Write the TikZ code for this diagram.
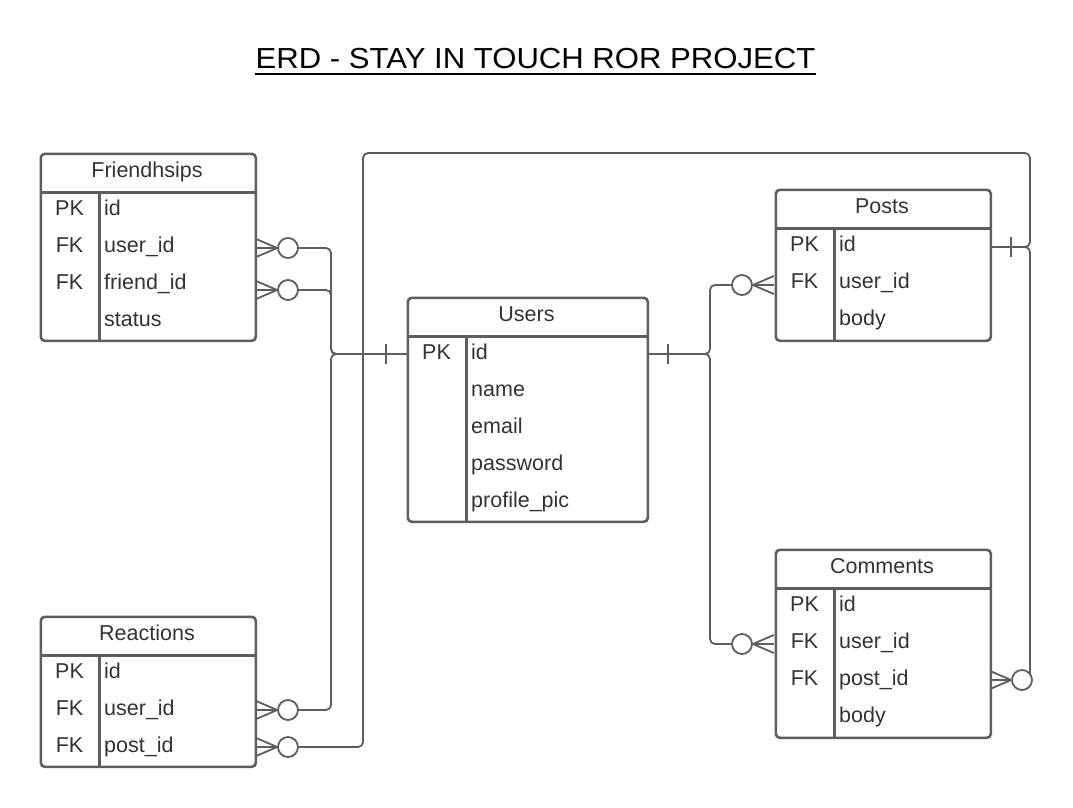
\documentclass[tikz,border=0pt]{standalone}
\usepackage{fontspec}
\setmainfont{Liberation Sans}
\usepackage{graphicx}
\definecolor{erdline}{RGB}{94,94,94}
\definecolor{erdtext}{RGB}{51,51,51}
\tikzset{
  tbl/.style={draw=erdline, line width=2.6pt, rounded corners=4pt, fill=white, inner sep=0pt, anchor=north west},
  sepline/.style={draw=erdline, line width=2.6pt},
  keyt/.style={anchor=base, text=erdtext, font=\fontsize{21.5}{25}\selectfont, inner sep=0pt},
  fldt/.style={anchor=base west, text=erdtext, font=\fontsize{21.5}{25}\selectfont, inner sep=0pt},
  hdrt/.style={anchor=base, text=erdtext, font=\fontsize{21.5}{25}\selectfont, inner sep=0pt},
  conn/.style={draw=erdline, line width=1.8pt, rounded corners=5pt},
  ocirc/.style={circle, draw=erdline, line width=1.8pt, fill=white, minimum size=20pt, inner sep=0pt},
  crowline/.style={draw=erdline, line width=1.8pt},
}
\newcommand\erdtab[7]{%
  \node[tbl, minimum width=#4pt, minimum height=#5pt] (#1) at (#2,#3) {};
  \draw[sepline] ({#2},{#3+40}) -- ({#2+#4},{#3+40});
  \draw[sepline] ({#2+60},{#3+40}) -- ({#2+60},{#3+#5});
  \node[hdrt] (#1-title) at ({#2+#4/2},{#3+25}) {#6};
  \foreach \k/\f [count=\i] in {#7} {
    \node[keyt] (#1-k\i) at ({#2+30},{#3+63+37*(\i-1)}) {\k};
    \node[fldt] (#1-f\i) at ({#2+64.5},{#3+63+37*(\i-1)}) {\f};
  }
}
\newcommand\crowleft[1]{\draw[crowline] (#1.west) -- ++(-21,-9) (#1.west) -- ++(-21,0) (#1.west) -- ++(-21,9);}
\newcommand\crowright[1]{\draw[crowline] (#1.east) -- ++(21,-9) (#1.east) -- ++(21,0) (#1.east) -- ++(21,9);}
\begin{document}
\begin{tikzpicture}[x=1pt,y=-1pt]
\fill[white] (0,0) rectangle (1073,807);
\useasboundingbox (0,0) rectangle (1073,807);

% title
\node[font=\fontsize{29}{34}\selectfont, anchor=base, inner sep=0pt] (title) at (535.5,68)
  {\scalebox{1.072}[1]{ERD - STAY IN TOUCH ROR PROJECT}};
\draw[line width=2pt] ([yshift=-5.5pt]title.south west) -- ([yshift=-5.5pt]title.south east);

% tables
\erdtab{fr}{39.5}{152.5}{215}{187}{Friendhsips}{PK/id, FK/user\_id, FK/friend\_id, {}/status}
\erdtab{us}{406.5}{296.5}{240}{224}{Users}{PK/id, {}/name, {}/email, {}/password, {}/profile\_pic}
\erdtab{po}{774.5}{188.5}{215}{151}{Posts}{PK/id, FK/user\_id, {}/body}
\erdtab{co}{774.5}{548.5}{215}{188}{Comments}{PK/id, FK/user\_id, FK/post\_id, {}/body}
\erdtab{re}{39.5}{615.5}{215}{150}{Reactions}{PK/id, FK/user\_id, FK/post\_id}

% anchor points
\coordinate (ul) at (407,354);
\coordinate (ur) at (647,354);
\coordinate (pr) at (990,247);

% circles (positions)
\path (288,248) coordinate (cfu) (288,290) coordinate (cff)
      (288,710) coordinate (cru) (288,747) coordinate (crp)
      (742,285) coordinate (cpu) (742,644) coordinate (ccu)
      (1022,680) coordinate (ccp);

% connectors
\draw[conn] (cfu) -- (331,248) -- (331,354) -- (ul);
\draw[conn] (cff) -- (331,290) -- (331,354) -- (ul);
\draw[conn] (cru) -- (331,710) -- (331,354) -- (ul);
\draw[conn] (crp) -- (363,747) -- (363,153) -- (1030,153) -- (1030,247) -- (pr);
\draw[conn] (pr) -- (1030,247) -- (1030,680);
\draw[conn] (ur) -- (710,354) -- (710,285) -- (cpu);
\draw[conn] (ur) -- (710,354) -- (710,644) -- (ccu);

% one bars
\draw[crowline] (386,344) -- (386,364);
\draw[crowline] (668,344) -- (668,364);
\draw[crowline] (1011,237) -- (1011,257);

% zero circles + crow's feet
\node[ocirc] (ofu) at (cfu) {};
\node[ocirc] (off) at (cff) {};
\node[ocirc] (oru) at (cru) {};
\node[ocirc] (orp) at (crp) {};
\node[ocirc] (opu) at (cpu) {};
\node[ocirc] (ocu) at (ccu) {};
\node[ocirc] (ocp) at (ccp) {};
\crowleft{ofu}
\crowleft{off}
\crowleft{oru}
\crowleft{orp}
\crowleft{ocp}
\crowright{opu}
\crowright{ocu}
\end{tikzpicture}
\end{document}
